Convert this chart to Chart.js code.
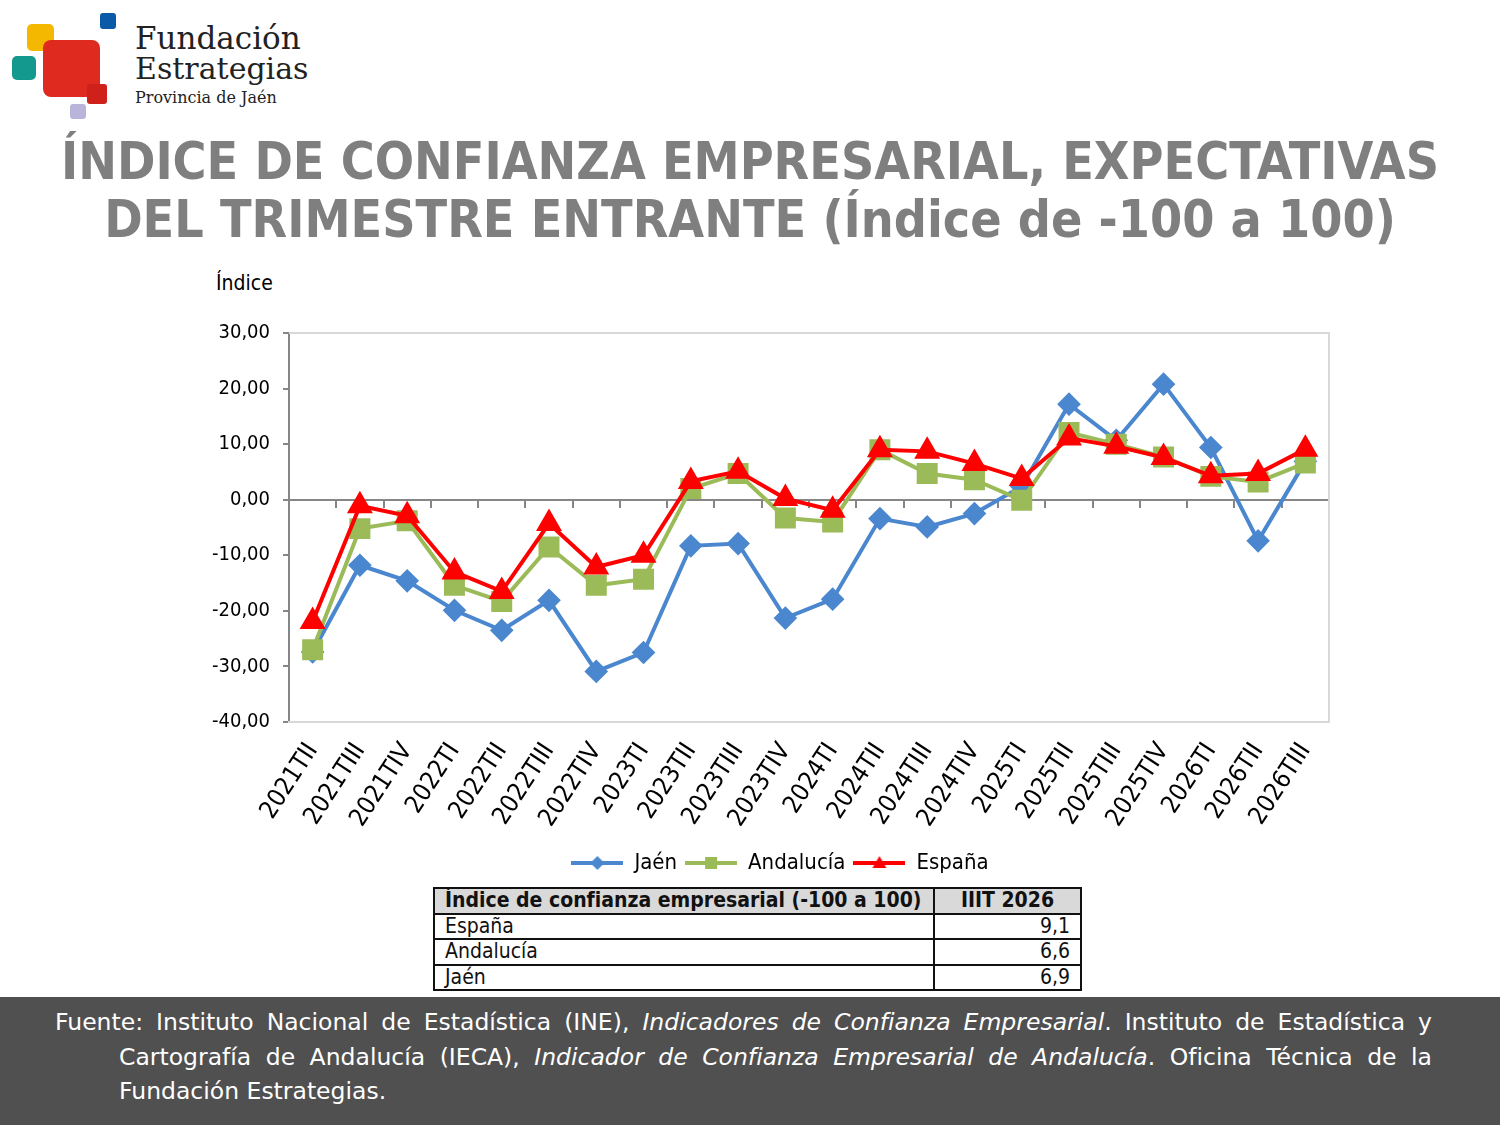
<!DOCTYPE html>
<html lang="es">
<head>
<meta charset="utf-8">
<script src="https://cdn.jsdelivr.net/npm/chart.js@4.4.1/dist/chart.umd.min.js"></script>
<style>
  html, body { margin: 0; padding: 0; background: #fff; }
  body { width: 1500px; height: 1125px; position: relative; overflow: hidden;
         font-family: "DejaVu Sans Condensed", "DejaVu Sans", sans-serif; }
  .sq { position: absolute; border-radius: 5px; }
  .logoTxt { position: absolute; left: 135px; font-family: "DejaVu Serif", serif; color: #222; white-space: nowrap; }
  #titulo { position: absolute; left: 0; top: 132px; width: 1500px; text-align: center;
            font-weight: bold; font-size: 51.5px; line-height: 58px; color: #7f7f7f; }
  #ylab { position: absolute; left: 216px; top: 271px; font-size: 21px; color: #000; }
  #chartBox { position: absolute; left: 0; top: 300px; width: 1500px; height: 584px; }
  #tabla { position: absolute; left: 433px; top: 887px; width: 649px; border-collapse: collapse;
           font-size: 21px; color: #111; }
  #tabla td, #tabla th { border: 2px solid #111; padding: 0 10px; height: 23.5px; line-height: 23.5px; }
  #tabla th { background: #d9d9d9; font-weight: bold; text-align: left; }
  #tabla th.r { text-align: center; }
  #tabla td.r { text-align: right; }
  #pie { position: absolute; left: 0; top: 997px; width: 1500px; height: 128px; background: #505050; }
  #pie div { position: absolute; white-space: nowrap; color: #fff; font-size: 23.5px; line-height: 34.5px;
             font-family: "DejaVu Sans", sans-serif; text-align: justify; text-align-last: justify; }
  #pie div.ult { text-align: left; text-align-last: left; }
</style>
</head>
<body>
<div class="sq" style="left:27px;top:24px;width:27px;height:27px;background:#f5b800"></div>
<div class="sq" style="left:12px;top:56px;width:24px;height:24px;background:#14998f"></div>
<div class="sq" style="left:43px;top:40px;width:57px;height:57px;background:#de2a1f;border-radius:8px"></div>
<div class="sq" style="left:100px;top:13px;width:16px;height:16px;background:#0a5aa8;border-radius:3px"></div>
<div class="sq" style="left:87px;top:84px;width:20px;height:20px;background:#d0201a;border-radius:3px"></div>
<div class="sq" style="left:70px;top:104px;width:16px;height:15px;background:#b9b5da;border-radius:3px"></div>
<div class="logoTxt" style="top:20px;font-size:31px;">Fundación</div>
<div class="logoTxt" style="top:51px;font-size:30px;">Estrategias</div>
<div class="logoTxt" style="top:88px;font-size:16px;">Provincia de Jaén</div>

<div id="titulo">ÍNDICE DE CONFIANZA EMPRESARIAL, EXPECTATIVAS<br>DEL TRIMESTRE ENTRANTE (Índice de -100 a 100)</div>
<div id="ylab">Índice</div>
<div id="chartBox"><canvas id="grafico"></canvas></div>
<table id="tabla"></table>
<div id="pie">
  <div style="left:55px;top:8px;width:1377px;">Fuente: Instituto Nacional de Estadística (INE), <i>Indicadores de Confianza Empresarial</i>. Instituto de Estadística y</div>
  <div style="left:119px;top:42.5px;width:1313px;">Cartografía de Andalucía (IECA), <i>Indicador de Confianza Empresarial de Andalucía</i>. Oficina Técnica de la</div>
  <div class="ult" style="left:119px;top:77px;width:1313px;">Fundación Estrategias.</div>
</div>

<script>
// ====== Datos ======
const trimestres = ['2021TII', '2021TIII', '2021TIV', '2022TI', '2022TII', '2022TIII', '2022TIV',
  '2023TI', '2023TII', '2023TIII', '2023TIV', '2024TI', '2024TII', '2024TIII', '2024TIV',
  '2025TI', '2025TII', '2025TIII', '2025TIV', '2026TI', '2026TII', '2026TIII'];
const jaen = [-27.4, -11.8, -14.6, -19.9, -23.5, -18.1, -30.9, -27.5, -8.3, -7.9, -21.3,
  -17.9, -3.4, -4.9, -2.5, 2.4, 17.2, 10.7, 20.8, 9.4, -7.4, 6.9];
const andalucia = [-27.0, -5.2, -3.8, -15.4, -18.3, -8.5, -15.4, -14.3, 2.0, 4.7, -3.3,
  -4.0, 9.0, 4.7, 3.6, -0.1, 12.1, 10.0, 7.7, 4.2, 3.2, 6.6];
const espana = [-21.9, -1.1, -2.9, -13.0, -16.5, -4.3, -12.1, -10.0, 3.3, 5.1, 0.2,
  -1.9, 9.0, 8.7, 6.5, 3.8, 11.1, 9.6, 7.6, 4.3, 4.7, 9.1];
const periodoTabla = 'IIIT 2026';

const azul = '#4a87cf', verde = '#9bbb59', rojo = '#ff0000';
const fuente = '"DejaVu Sans Condensed", "DejaVu Sans", sans-serif';
const coma = (v, d) => v.toFixed(d).replace('.', ',');

// ====== Tabla ======
const tabla = document.getElementById('tabla');
tabla.innerHTML =
  '<tr><th style="width:478px">Índice de confianza empresarial (-100 a 100)</th><th class="r">' + periodoTabla + '</th></tr>' +
  '<tr><td>España</td><td class="r">' + coma(espana[espana.length - 1], 1) + '</td></tr>' +
  '<tr><td>Andalucía</td><td class="r">' + coma(andalucia[andalucia.length - 1], 1) + '</td></tr>' +
  '<tr><td>Jaén</td><td class="r">' + coma(jaen[jaen.length - 1], 1) + '</td></tr>';

// ====== Iconos de leyenda (línea + marcador) ======
function iconoLeyenda(color, estilo) {
  const c = document.createElement('canvas');
  c.width = 52; c.height = 20;
  const g = c.getContext('2d');
  g.strokeStyle = color; g.fillStyle = color; g.lineWidth = 4;
  g.beginPath(); g.moveTo(0, 10); g.lineTo(52, 10); g.stroke();
  g.beginPath();
  if (estilo === 'rombo') { g.moveTo(26, 3); g.lineTo(33, 10); g.lineTo(26, 17); g.lineTo(19, 10); }
  else if (estilo === 'cuadro') { g.rect(20, 4, 12, 12); }
  else { g.moveTo(26, 3); g.lineTo(33, 15); g.lineTo(19, 15); }
  g.closePath(); g.fill();
  return c;
}
const iconos = [iconoLeyenda(azul, 'rombo'), iconoLeyenda(verde, 'cuadro'), iconoLeyenda(rojo, 'tri')];

// ====== Marco del área de trazado y leyenda centrada ======
const marco = {
  id: 'marco',
  afterLayout(chart) {
    // la leyenda se centra entre el texto de "Índice" y el borde derecho del gráfico
    chart.legend.left = 231;
  },
  beforeDatasetsDraw(chart) {
    const a = chart.chartArea, ctx = chart.ctx;
    ctx.save();
    ctx.strokeStyle = '#d9d9d9'; ctx.lineWidth = 2;
    ctx.beginPath();
    ctx.moveTo(a.left, a.top); ctx.lineTo(a.right, a.top);
    ctx.lineTo(a.right, a.bottom); ctx.lineTo(a.left, a.bottom);
    ctx.stroke();
    ctx.restore();
  }
};

new Chart(document.getElementById('grafico').getContext('2d'), {
  type: 'line',
  data: {
    labels: trimestres,
    datasets: [
      { label: 'Jaén', data: jaen, borderColor: azul, backgroundColor: azul, borderWidth: 4,
        pointStyle: 'rectRot', pointRadius: 9, pointHoverRadius: 9, order: 3 },
      { label: 'Andalucía', data: andalucia, borderColor: verde, backgroundColor: verde, borderWidth: 4,
        pointStyle: 'rect', pointRadius: 12, pointHoverRadius: 12, order: 2 },
      { label: 'España', data: espana, borderColor: rojo, backgroundColor: rojo, borderWidth: 4,
        pointStyle: 'triangle', pointRadius: 11, pointHoverRadius: 11, order: 1 }
    ]
  },
  options: {
    responsive: true,
    maintainAspectRatio: false,
    animation: false,
    layout: { padding: { left: 0, right: 171, top: 33, bottom: 0 } },
    plugins: {
      tooltip: { enabled: false },
      legend: {
        position: 'bottom',
        labels: {
          usePointStyle: true,
          pointStyleWidth: 52,
          padding: 8,
          color: '#000',
          font: { family: fuente, size: 22 },
          sort: (a, b) => a.datasetIndex - b.datasetIndex,
          generateLabels(chart) {
            return chart.data.datasets.map((ds, i) => ({
              text: ds.label, datasetIndex: i, pointStyle: iconos[i],
              fillStyle: ds.backgroundColor, strokeStyle: ds.borderColor, lineWidth: 0,
              hidden: false, fontColor: '#000'
            }));
          }
        }
      }
    },
    scales: {
      y: {
        min: -40, max: 30,
        afterFit(scale) { scale.width = 289; },
        ticks: { stepSize: 10, color: '#000', padding: 13, font: { family: fuente, size: 20 },
          callback: v => coma(v, 2) },
        grid: { drawOnChartArea: false, drawTicks: true, tickLength: 6, color: '#868686', lineWidth: 2 },
        border: { color: '#868686', width: 2 }
      },
      x: {
        offset: true,
        afterFit(scale) { scale.height = 122; },
        ticks: { color: '#000', minRotation: 57, maxRotation: 57, autoSkip: false, padding: 8,
          font: { family: fuente, size: 25 } },
        grid: { display: false },
        border: { color: '#d9d9d9', width: 2 }
      },
      x2: {
        type: 'category',
        labels: trimestres,
        offset: true,
        position: { y: 0 },
        ticks: { display: false },
        grid: { offset: true, drawOnChartArea: false, drawTicks: true, tickLength: 7, color: '#868686', lineWidth: 2 },
        border: { color: '#868686', width: 2 }
      }
    }
  },
  plugins: [marco]
});
</script>
</body>
</html>
